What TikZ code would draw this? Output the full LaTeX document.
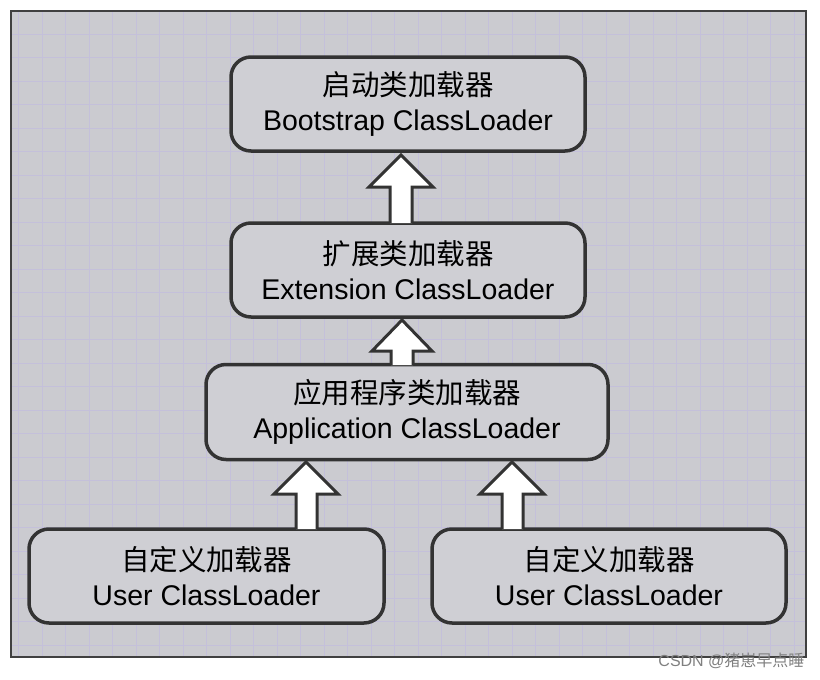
\documentclass[tikz,border=0pt]{standalone}
\usepackage{fontspec}
\setmainfont{Liberation Sans}
\newfontfamily\cjk{Noto Sans CJK SC}
\begin{document}
\begin{tikzpicture}[x=1pt,y=-1pt,
  box/.style={draw=black!80,line width=3.5pt,rounded corners=20pt,fill=boxfill,align=center,font=\fontsize{28.5}{35}\selectfont,inner sep=0pt},
  up/.style={draw=black!80,line width=3pt,fill=white,line join=miter}]
\definecolor{bg}{HTML}{CBCBD0}
\definecolor{boxfill}{HTML}{CFCFD4}
\definecolor{gridc}{HTML}{C4C0DA}
\useasboundingbox (0,0) rectangle (820,680);
\fill[white] (0,0) rectangle (820,680);
\fill[bg] (11,11) rectangle (806,657);
\begin{scope}
\clip (11,11) rectangle (806,657);
\foreach \i in {0,...,34} {
  \draw[gridc,line width=0.6pt] ({18.5+23.5*\i},11) -- ({18.5+23.5*\i},657);
  \draw[gridc,line width=0.6pt] (11,{10.5+23.5*\i}) -- (806,{10.5+23.5*\i});
}
\end{scope}
\draw[black!75,line width=1.5pt] (11,11) rectangle (806,657);

\node[box,minimum width=354pt,minimum height=94pt] (boot) at (408,104) {{\cjk 启动类加载器}\\Bootstrap ClassLoader};
\node[box,minimum width=354pt,minimum height=94pt] (ext) at (408,270) {{\cjk 扩展类加载器}\\Extension ClassLoader};
\node[box,minimum width=402pt,minimum height=95pt] (app) at (407,412) {{\cjk 应用程序类加载器}\\Application ClassLoader};
\node[box,minimum width=355pt,minimum height=94pt] (u1) at (206.5,576) {{\cjk 自定义加载器}\\User ClassLoader};
\node[box,minimum width=354pt,minimum height=94pt] (u2) at (609,576) {{\cjk 自定义加载器}\\User ClassLoader};

\draw[up] (390,223) -- (390,187) -- (369,187) -- (401,155) -- (433,187) -- (412,187) -- (412,223);
\draw[up] (391,365) -- (391,351) -- (372,351) -- (402,320) -- (432,351) -- (413,351) -- (413,365);
\draw[up] (296,529) -- (296,494) -- (274,494) -- (306,462) -- (338,494) -- (317,494) -- (317,529);
\draw[up] (502,529) -- (502,494) -- (480,494) -- (512,462) -- (544,494) -- (523,494) -- (523,529);

\node[anchor=east,text=gray,font=\fontsize{16}{18}\selectfont] (wm) at (808,661) {CSDN @{\cjk 猪崽早点睡}};
\end{tikzpicture}
\end{document}
